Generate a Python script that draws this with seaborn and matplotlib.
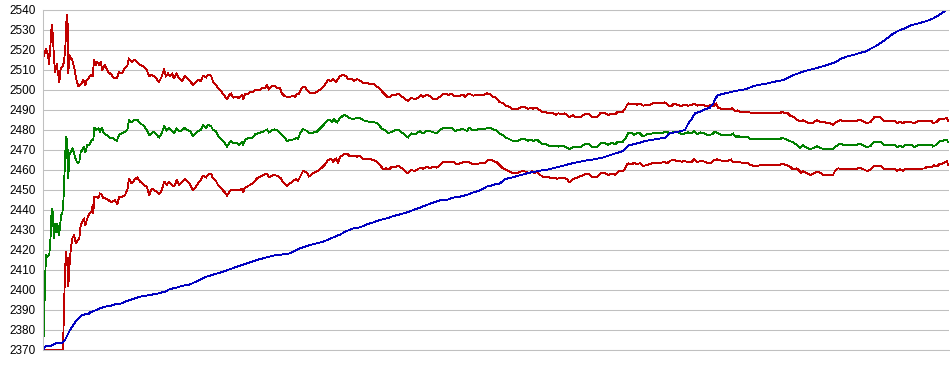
import matplotlib
matplotlib.use("Agg")
import matplotlib.pyplot as plt
import seaborn as sns

# Sample index / value pairs
upper_t = [0, 1, 3, 5, 6, 7, 8.7, 9.7, 11, 12, 13.7, 15.3, 16.3, 17.7, 19.7, 21, 22.3, 23.7, 24.7, 25.3,
           26.3, 27.7, 29.3, 31.3, 33, 35.3, 37, 38.7, 40.3, 42.3, 43.7, 45.7, 47.7, 49.7, 51, 52.7, 54.3,
           56.3, 57.7, 59.3, 62, 65.3, 68.7, 71, 73.7, 76, 78.7, 82, 84.3, 86, 88.7, 91.3, 94.3, 97, 101,
           103.7, 106.3, 108.7, 111, 113.7, 116, 118.7, 121, 123, 125, 127, 129, 131, 133.7, 136, 139.3,
           142, 144.3, 147, 150, 153, 155, 158, 160, 163, 165, 168, 170, 173, 175, 179, 182, 184, 186,
           188, 190, 194, 196, 199, 200, 202, 204, 207, 210, 212, 217, 220, 222, 224, 226, 229, 232, 234,
           237, 239, 241, 244, 247, 250, 252, 254, 256, 259, 262, 264, 267, 272, 275, 279, 282, 285, 288,
           290, 293, 295, 297, 300, 303, 305, 309, 311, 314, 316, 319, 321, 324, 326, 330, 333, 336, 339,
           341, 344, 347, 350, 352, 355, 359, 362, 365, 368, 372, 375, 378, 380, 383, 386, 390, 394, 397,
           400, 403, 405, 409, 412, 414, 417, 420, 422, 426, 430, 434, 440, 444, 447, 450, 453, 456, 460,
           463, 466, 470, 474, 478, 482, 485, 488, 490, 493, 495, 499, 502, 505, 510, 513, 515, 519, 522,
           526, 530, 533, 537, 540, 544, 547, 550, 554, 557, 562, 565, 569, 572, 575, 580, 582, 584, 585,
           589, 591, 594, 597, 600, 604, 607, 610, 617, 622, 625, 628, 631, 634, 639, 642, 645, 649, 651,
           654, 657, 661, 664, 667, 670, 673, 675, 679, 684, 688, 689, 692, 695, 697, 704, 706, 712, 720,
           730, 737, 739, 742, 745, 747, 750, 753, 757, 760, 763, 766, 770, 774, 777, 782, 787, 790, 794,
           797, 800, 807, 814, 816, 820, 824, 828, 831, 837, 841, 847, 852, 854, 857, 860, 862, 867, 871,
           875, 882, 889, 890, 894, 896, 900, 904, 905]
upper_v = [2516, 2517.5, 2520.5, 2517.5, 2513, 2519, 2532.5, 2528.5, 2516, 2509, 2513, 2507.5, 2504, 2511,
           2512, 2514, 2521, 2537.5, 2532.5, 2508.3, 2517.5, 2516, 2515, 2511, 2506, 2501.7, 2502.5, 2503.3,
           2505, 2502.5, 2505, 2506, 2507.5, 2506.7, 2515, 2512.5, 2514, 2512.5, 2514, 2510, 2512.5, 2509,
           2507.5, 2506, 2505.8, 2509, 2508.3, 2511, 2512, 2515.8, 2514, 2515, 2514, 2512.5, 2511.7, 2510,
           2506.7, 2507.5, 2507, 2505.5, 2504, 2506.7, 2510.3, 2506.7, 2508.3, 2507, 2508.3, 2505.8, 2508.3,
           2505.8, 2504.5, 2507, 2506, 2504.5, 2502.5, 2503.8, 2505, 2504.5, 2507.2, 2506.2, 2507.5, 2507.2,
           2504.2, 2502.5, 2500.8, 2498.8, 2496.7, 2495.3, 2497.2, 2498.3, 2496.2, 2496.7, 2495.8, 2497.5,
           2495.3, 2497.8, 2497.8, 2498.8, 2498.8, 2500.2, 2500.2, 2501.3, 2500.8, 2502.5, 2500.2, 2502.2,
           2501.8, 2500.8, 2500.8, 2498.3, 2497.2, 2496.5, 2496.5, 2497.2, 2496.5, 2498.2, 2498.2, 2501.2,
           2501.5, 2500, 2498.5, 2498.5, 2499.5, 2500.8, 2502.8, 2505, 2504.5, 2505.5, 2503.8, 2505.5, 2507,
           2507.5, 2507, 2505.5, 2505.5, 2504.5, 2505.5, 2505, 2504.2, 2503.2, 2503.8, 2503.2, 2503.2, 2502,
           2501.2, 2499.2, 2498.3, 2496.7, 2496.7, 2497.8, 2497.2, 2498.3, 2496.7, 2495.5, 2494.5, 2496.2,
           2495.3, 2496.2, 2497.5, 2496.5, 2497.5, 2497.2, 2495.5, 2495.5, 2496.7, 2497.8, 2498.3, 2497.5,
           2498.2, 2496.7, 2497.2, 2497.2, 2497.8, 2496.7, 2498.3, 2497.2, 2497.5, 2497.5, 2498.3, 2498,
           2496.7, 2496.2, 2494.2, 2493.3, 2492.2, 2491.7, 2490.3, 2490.3, 2491.3, 2491.3, 2490.5, 2491.2,
           2490.5, 2491.3, 2490.5, 2489.2, 2489.2, 2488.3, 2488.3, 2487.5, 2488.3, 2488, 2488.3, 2486.3,
           2487.5, 2486.3, 2486.3, 2487.5, 2488.3, 2487.5, 2486.3, 2486.3, 2488.3, 2488.3, 2487.5, 2488.3,
           2487.8, 2489.2, 2489.2, 2490.5, 2492.5, 2493.3, 2492.8, 2493.3, 2492.5, 2493.3, 2492.2, 2492.5,
           2492.5, 2493.3, 2493.3, 2493.8, 2492.5, 2491.7, 2493.3, 2492.5, 2492, 2492.8, 2492.2, 2492.5,
           2493.3, 2492.2, 2492.5, 2492.5, 2491.7, 2492.5, 2491.7, 2493.3, 2491.2, 2490.5, 2490.3, 2490.3,
           2491.2, 2489.5, 2489.8, 2489.2, 2489.2, 2488.8, 2488.3, 2488.3, 2488.3, 2488.3, 2489.2, 2488.3,
           2488.3, 2487.2, 2486.7, 2485.5, 2484.2, 2485, 2484.2, 2483.3, 2483.7, 2485, 2484.2, 2483.8,
           2483.3, 2482.5, 2484.2, 2485, 2484.5, 2484.5, 2484.5, 2485.3, 2484.5, 2483.3, 2484.2, 2486.3,
           2486.3, 2484.5, 2484.5, 2484.5, 2483.3, 2484.2, 2483.3, 2484.2, 2484.2, 2483.3, 2484.5, 2484.5,
           2484.5, 2483.3, 2484.2, 2485.3, 2485.3, 2486.2, 2484.5]

middle_t = [0, 1, 2, 3, 4.3, 6.3, 7.7, 8.7, 9.7, 11, 12, 13, 14.3, 15.7, 17, 18, 19.3, 20.3, 21.3, 22.3,
            23, 23.7, 24.3, 25.3, 26.3, 27.7, 29.7, 31, 33, 34.7, 36.3, 37.7, 39.3, 41, 42.3, 44.3, 46.3,
            48.7, 50.3, 51.3, 53, 55.3, 57, 58.7, 61, 63.7, 67, 70.3, 73.7, 76, 78.7, 82, 84.3, 86, 88.7,
            91.3, 94.7, 97, 101, 103.7, 106.3, 108.7, 111, 113.7, 116, 118.7, 121.3, 123.7, 126, 128.7,
            131.3, 133.7, 136.3, 139.3, 142, 144.3, 147, 150, 153, 155, 158, 160, 163, 165, 168, 170, 173,
            175, 179, 182, 184, 186, 188, 190, 194, 196, 199, 200, 202, 205, 209, 212, 217, 220, 224, 226,
            229, 232, 235, 239, 242, 244, 247, 251, 254, 255, 257, 260, 264, 267, 274, 277, 280, 284, 286,
            289, 291, 294, 297, 301, 304, 307, 311, 314, 317, 320, 322, 326, 330, 334, 336, 339, 342, 345,
            349, 352, 354, 357, 360, 364, 365, 368, 372, 377, 380, 383, 389, 393, 397, 401, 404, 408, 412,
            415, 420, 424, 426, 430, 437, 442, 445, 447, 450, 453, 456, 460, 463, 466, 470, 474, 478, 482,
            485, 488, 490, 494, 496, 500, 503, 506, 512, 515, 519, 522, 526, 530, 537, 540, 544, 547, 550,
            554, 558, 562, 565, 569, 572, 575, 580, 582, 584, 585, 589, 591, 594, 597, 600, 604, 610, 617,
            621, 624, 626, 630, 634, 639, 642, 645, 649, 651, 654, 657, 661, 665, 669, 672, 675, 679, 684,
            688, 690, 693, 695, 697, 705, 707, 712, 720, 730, 737, 739, 743, 747, 750, 754, 757, 760, 763,
            766, 770, 774, 777, 780, 790, 794, 797, 800, 814, 816, 820, 824, 828, 831, 837, 841, 847, 852,
            854, 857, 860, 862, 869, 871, 875, 889, 890, 894, 896, 900, 904, 905]
middle_v = [2370, 2381.7, 2404, 2417.5, 2416.7, 2417.5, 2427.5, 2440.8, 2439, 2425.8, 2433.3, 2429, 2433.3,
            2427.5, 2431, 2437.5, 2438.3, 2443.3, 2455.8, 2469, 2476.7, 2465.8, 2475.8, 2455.8, 2467.5,
            2469, 2470.8, 2468.3, 2465, 2463.3, 2464, 2469, 2470, 2471.7, 2469, 2472.5, 2472.5, 2475, 2475,
            2481.2, 2480, 2480.8, 2479, 2481.2, 2478.3, 2477.5, 2476.2, 2475.8, 2474.5, 2477.5, 2478.3,
            2479.2, 2480, 2485, 2483.8, 2485, 2485, 2483.3, 2482.2, 2480, 2477.5, 2478.3, 2479.2, 2477.5,
            2476.2, 2478.3, 2482.2, 2479.7, 2481.2, 2479.5, 2478.3, 2480.8, 2479.2, 2480, 2481.2, 2480,
            2479.5, 2477, 2478.3, 2479.5, 2480, 2482.5, 2480.8, 2482.5, 2482, 2480, 2479.5, 2477.2, 2475,
            2473.3, 2471.7, 2473.3, 2474.5, 2473.3, 2473.7, 2472.5, 2474.2, 2472.5, 2475, 2475.8, 2475.8,
            2477.8, 2478.7, 2479.2, 2480.3, 2478.7, 2480, 2480.3, 2479.5, 2477.5, 2476.2, 2474.5, 2475,
            2475.3, 2476.2, 2475.3, 2478.3, 2480.5, 2479.5, 2478.3, 2479.2, 2480.8, 2482.2, 2484.5, 2485.3,
            2484.2, 2485.3, 2483.7, 2486, 2487.5, 2487, 2485.8, 2485.5, 2486.2, 2486, 2485, 2484.5, 2484.2,
            2484.2, 2483.3, 2482.5, 2480.5, 2480, 2478.3, 2479.2, 2480, 2480.3, 2479.5, 2478.3, 2476.7,
            2476.2, 2478.3, 2477.8, 2479.5, 2478.3, 2479.5, 2479.2, 2478.3, 2480, 2481.2, 2480.8, 2481.2,
            2479.5, 2480, 2480.5, 2479.5, 2481.2, 2479.8, 2480.5, 2480.5, 2481.2, 2481.2, 2480.3, 2480,
            2478.3, 2477.5, 2476.2, 2475.5, 2474.5, 2474.5, 2475.3, 2475.3, 2474.5, 2475.3, 2474.5, 2475.3,
            2474.2, 2472.8, 2472.8, 2472.2, 2472.2, 2471.7, 2472.2, 2471.7, 2470.5, 2471.3, 2471.3, 2472.5,
            2473.3, 2472.5, 2471.3, 2471.3, 2473.3, 2473.3, 2472.5, 2473.8, 2472.8, 2474.2, 2474.2, 2475.5,
            2477.2, 2478.3, 2478.3, 2477.5, 2478.3, 2478.3, 2476.7, 2477.8, 2478.3, 2478.3, 2478.8, 2479.2,
            2478.3, 2478.8, 2479.2, 2477.8, 2478.3, 2478.8, 2478.3, 2479.5, 2477.8, 2478.8, 2478.3, 2477.5,
            2477.8, 2479.2, 2478.3, 2477.5, 2477.5, 2477.5, 2478.3, 2476.3, 2477.2, 2476.3, 2476.3, 2475.5,
            2475.3, 2475.3, 2475.3, 2475.3, 2476.2, 2475.3, 2474.5, 2473.8, 2472.5, 2471.2, 2472.5, 2471.3,
            2470.5, 2470.8, 2472, 2471.2, 2470.5, 2470.5, 2472.2, 2473.3, 2472.5, 2472.5, 2473.3, 2472.5,
            2471.3, 2472.2, 2474.2, 2474.2, 2472.5, 2472.5, 2472.5, 2471.3, 2472.2, 2471.3, 2472.5, 2472.5,
            2471.3, 2472.5, 2472.5, 2471.7, 2472.8, 2474.2, 2474.7, 2475.3, 2473.8]

lower_t = [0, 20, 21, 22, 23, 23.7, 24.7, 25.3, 26.3, 27.7, 29.3, 31, 33, 34.7, 36.3, 37.7, 39.3, 41, 42.3,
           44.3, 46.3, 48.7, 49.7, 50.3, 51.3, 53.7, 55.3, 57, 58.7, 60.3, 62, 65.3, 68.7, 72, 74.3, 76.3,
           79.3, 82, 84.3, 86, 88.7, 91.3, 94.3, 97, 101, 103.7, 106.3, 108.7, 111, 113.7, 116.3, 118.7,
           121.3, 123.7, 126, 128.7, 131.3, 133.7, 136.3, 139.3, 142, 144.3, 147, 150, 153, 155, 158, 160,
           163, 165, 168, 170, 173, 175, 179, 182, 184, 186, 188, 192, 196, 199, 200, 202, 204, 207, 210,
           214, 217, 221, 224, 226, 230, 234, 238, 240, 244, 247, 250, 253, 255, 258, 260, 264, 266, 270,
           275, 279, 282, 285, 288, 290, 293, 295, 297, 301, 304, 306, 310, 314, 317, 320, 327, 330, 334,
           337, 340, 343, 346, 349, 352, 355, 359, 362, 365, 368, 372, 375, 378, 380, 384, 387, 390, 394,
           397, 400, 404, 407, 410, 414, 417, 420, 425, 430, 437, 442, 445, 447, 450, 454, 457, 460, 464,
           467, 470, 474, 479, 483, 486, 489, 491, 494, 496, 500, 504, 507, 512, 514, 517, 521, 524, 526,
           530, 534, 539, 544, 547, 550, 554, 558, 562, 565, 569, 572, 575, 580, 582, 584, 585, 589, 591,
           594, 597, 600, 604, 609, 617, 621, 624, 626, 630, 634, 639, 642, 645, 649, 651, 654, 657, 662,
           665, 669, 671, 674, 676, 680, 685, 688, 690, 694, 697, 705, 707, 712, 720, 730, 737, 739, 743,
           747, 750, 754, 758, 760, 764, 767, 771, 774, 777, 780, 790, 792, 795, 799, 814, 816, 820, 824,
           828, 831, 837, 841, 847, 852, 854, 857, 860, 862, 870, 874, 882, 884, 889, 891, 894, 896, 900,
           904, 905]
lower_v = [2370, 2370, 2390.8, 2409, 2419, 2412.5, 2416, 2401.7, 2410.8, 2420, 2425.8, 2427.5, 2423.3, 2425,
           2425.8, 2432.5, 2434.2, 2435.8, 2432.5, 2435.8, 2438.3, 2439.2, 2442.5, 2438.3, 2446.7, 2446.7,
           2445.8, 2448.3, 2447.5, 2445.8, 2445.8, 2445, 2443.8, 2445, 2442.8, 2446.7, 2446.7, 2447.5, 2450,
           2455.5, 2453.3, 2455, 2456.3, 2454.2, 2452.5, 2451.7, 2447.5, 2450.8, 2450, 2449.2, 2447.8, 2450,
           2454.2, 2452.5, 2454.2, 2452.5, 2451.7, 2455, 2452.5, 2454.2, 2455.5, 2454.2, 2452.8, 2450,
           2451.7, 2453.3, 2455, 2457.2, 2456.2, 2457.5, 2458.3, 2455.8, 2454.5, 2452.5, 2450.3, 2448.7,
           2447.2, 2448.8, 2450, 2450, 2449.8, 2450.8, 2448.8, 2451.2, 2451.7, 2452.5, 2453.3, 2455.8,
           2456.7, 2457.5, 2458.3, 2456.2, 2457.5, 2457.2, 2455.8, 2453.8, 2452, 2453.3, 2454.5, 2455.5,
           2454.5, 2457.5, 2459.5, 2458.7, 2456.7, 2458.3, 2459.7, 2461.2, 2462.8, 2465, 2465.5, 2464.2,
           2465.8, 2463.7, 2466.5, 2467.8, 2468.3, 2467.2, 2467.2, 2466.7, 2467, 2465.5, 2465.5, 2465,
           2464.2, 2462.5, 2460.5, 2460.8, 2460.3, 2461.7, 2461.2, 2462.2, 2460.8, 2459.5, 2458.3, 2460,
           2459.5, 2460.5, 2461.2, 2460.5, 2461.7, 2460.8, 2461.7, 2461.2, 2462.5, 2463.8, 2464.2, 2463.7,
           2464.2, 2462.8, 2463.3, 2463.8, 2464.2, 2462.8, 2463.3, 2463.3, 2465, 2465.3, 2464.5, 2463.8,
           2462.2, 2460.8, 2460, 2459.2, 2458.3, 2458.3, 2459.5, 2459.2, 2458.3, 2459.5, 2458.3, 2459.2,
           2457.8, 2456.7, 2456.7, 2456.2, 2456.2, 2455.5, 2456.2, 2456, 2455.5, 2453.8, 2455.5, 2456.2,
           2457.2, 2458.3, 2457.5, 2456.3, 2456.3, 2458.3, 2458.3, 2457.5, 2458.3, 2457.5, 2459.2, 2459.7,
           2460.5, 2462.8, 2463.3, 2462.8, 2463.7, 2462.8, 2463.5, 2462, 2462.5, 2463.3, 2463.3, 2464.2,
           2463.3, 2464.2, 2465.3, 2464.5, 2464.2, 2464.5, 2463.8, 2464.2, 2465.3, 2463.8, 2464.5, 2464.2,
           2463.3, 2463.8, 2465, 2465.3, 2465, 2464.5, 2464.5, 2465.3, 2463.8, 2464.2, 2463.8, 2463.3,
           2462.5, 2462, 2462.5, 2462.5, 2462.5, 2463.3, 2462.5, 2461.7, 2460.3, 2460.8, 2458.7, 2459.5,
           2458.3, 2457.5, 2458.3, 2459.2, 2458.7, 2457.5, 2457.5, 2459.5, 2460.8, 2460.5, 2460.5, 2461.3,
           2460.5, 2459.5, 2460.3, 2462.2, 2462.2, 2460.5, 2460.5, 2460.5, 2459.5, 2460.5, 2459.5, 2460.5,
           2460.5, 2460.5, 2460.8, 2461.7, 2461.7, 2462.5, 2461.7, 2462.8, 2463.3, 2464.5, 2462.5]

trend_t = [0, 1.7, 3, 8.7, 10.3, 13, 18.7, 20.3, 22, 23.7, 25.3, 27, 30.3, 33.7, 37, 38.7, 42, 45.3, 47,
           50.3, 53.7, 57, 62, 67, 72, 78.7, 82, 87, 92, 97, 107, 115.3, 122, 127, 133.7, 138.7, 143.7, 147,
           163.7, 180.3, 197, 213.7, 230.3, 247, 257, 267, 280.3, 297, 303.7, 310.3, 317, 323.7, 330.3, 337,
           343.7, 350.3, 357, 363.7, 370.3, 377, 383.7, 390.3, 397, 403.7, 410.3, 417, 423.7, 430.3, 437,
           443.7, 447, 452, 457, 462, 468.7, 475.3, 480.3, 487, 495.3, 505.3, 513.7, 520.3, 528.7, 540.3,
           550.3, 560.3, 570.3, 580.3, 585.3, 593.7, 597, 602, 612, 622, 627, 635.3, 642, 645.3, 648.7, 652,
           657, 662, 667, 670.3, 673, 675.3, 682, 692, 702, 712, 723.7, 732, 740.3, 747, 750.3, 755.3, 762,
           770.3, 777, 784.3, 792, 798.7, 803.7, 810.3, 815.3, 822, 827, 833.7, 840.3, 845.3, 850.3, 857,
           863.7, 868.7, 875.3, 883.7, 890.3, 897, 905]
trend_v = [2370, 2371.2, 2372.2, 2372.2, 2372.8, 2373.3, 2373.3, 2374.2, 2375, 2376.7, 2378.3, 2380, 2382.5,
           2385, 2386.7, 2387.5, 2387.8, 2387.8, 2388.8, 2389.5, 2390, 2390.8, 2391.7, 2392, 2392.8, 2393.3,
           2394.2, 2395, 2395.8, 2396.7, 2397.5, 2398.3, 2399.2, 2400.5, 2401.2, 2402, 2402.5, 2402.8,
           2406.7, 2409.2, 2412.2, 2415, 2417.2, 2418.3, 2420.8, 2422.5, 2424.2, 2427.7, 2429.5, 2430.8,
           2431.3, 2432.8, 2433.8, 2435, 2435.8, 2437, 2437.8, 2438.8, 2440, 2441.2, 2442.5, 2443.7, 2444.8,
           2445, 2446.2, 2446.7, 2447.5, 2448.8, 2449.8, 2451.7, 2452, 2452.8, 2453.3, 2455.5, 2456.2,
           2457.2, 2457.8, 2458.7, 2459.5, 2460.3, 2461.3, 2462.2, 2463.3, 2464.5, 2465.3, 2466.3, 2468,
           2469.5, 2472.2, 2473.3, 2473.7, 2474.5, 2475.3, 2476.2, 2478.3, 2479.2, 2480, 2483.3, 2485.5,
           2488.3, 2489.2, 2490.3, 2491.2, 2493.3, 2496.2, 2497.5, 2498.3, 2499.5, 2500.3, 2502.2, 2503.2,
           2504.2, 2505, 2506.7, 2507.5, 2508.3, 2509.5, 2510.5, 2511.5, 2512.5, 2513.8, 2515.8, 2516.7,
           2517.5, 2518.3, 2519.2, 2520.5, 2522.2, 2524.5, 2526.2, 2528.3, 2530, 2531.2, 2532.5, 2533.3,
           2534.5, 2535.8, 2537.8, 2540.5]

y_ticks = list(range(2370, 2541, 10))

sns.set_style("white")
plt.rcParams['font.family'] = ['Liberation Sans', 'DejaVu Sans']

fig = plt.figure(figsize=(9.5, 3.75), dpi=100)
ax = fig.add_axes([43 / 950, 25 / 375, 906 / 950, 340 / 375])

# Lines: upper band, middle, lower band, trend (1 px, no smoothing)
line_kw = dict(ax=ax, estimator=None, linewidth=0.6, antialiased=False)
sns.lineplot(x=upper_t, y=upper_v, color='#c00000', **line_kw)
sns.lineplot(x=middle_t, y=middle_v, color='#008000', **line_kw)
sns.lineplot(x=lower_t, y=lower_v, color='#c00000', **line_kw)
sns.lineplot(x=trend_t, y=trend_v, color='#0000c0', **line_kw)

ax.set_xlim(0, 906)
ax.set_ylim(2370, 2540)
ax.set_yticks(y_ticks)
ax.set_xticks([])
ax.yaxis.grid(True, color='#c0c0c0', linewidth=0.75)
ax.set_axisbelow(True)
ax.tick_params(axis='y', length=0, pad=5, labelsize=8.5, labelcolor='#000000')

for side in ['left', 'bottom', 'top']:
    ax.spines[side].set_color('#c0c0c0')
    ax.spines[side].set_linewidth(0.75)
ax.spines['right'].set_visible(False)

fig.savefig('out.png', dpi=100)
